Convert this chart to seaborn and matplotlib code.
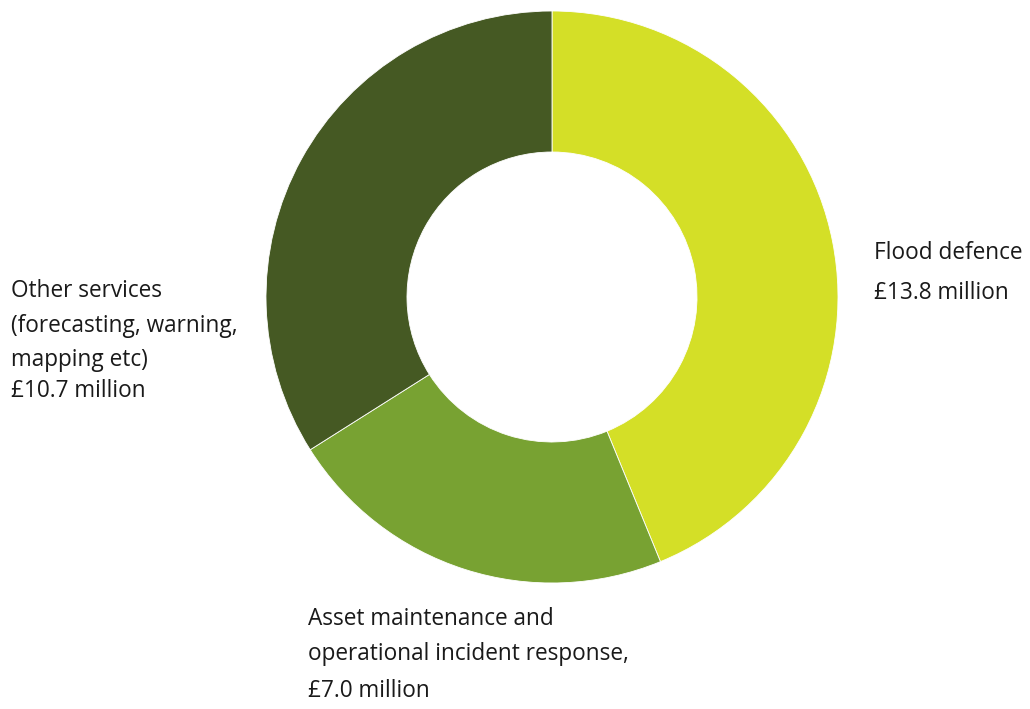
import matplotlib
matplotlib.use("Agg")
import matplotlib.pyplot as plt
import seaborn as sns

# Spending breakdown (£ million)
categories = ["Flood defence",
              "Asset maintenance and operational incident response",
              "Other services (forecasting, warning, mapping etc)"]
values = [13.8, 7.0, 10.7]
colors = ["#D4DF27", "#78A232", "#455923"]

label_lines = [
    ["Flood defence", "£13.8 million"],
    ["Asset maintenance and", "operational incident response,", "£7.0 million"],
    ["Other services", "(forecasting, warning,", "mapping etc)", "£10.7 million"],
]

sns.set_theme(style="white")
plt.rcParams["font.family"] = ["Open Sans", "DejaVu Sans"]

W, H = 1030, 709
fig = plt.figure(figsize=(W / 100, H / 100), dpi=100)
fig.patch.set_facecolor("white")

# Donut centre and outer radius in pixels
cx, cy, r = 552, 297, 286
ax = fig.add_axes([(cx - r) / W, (H - cy - r) / H, 2 * r / W, 2 * r / H])
ax.pie(values, colors=sns.color_palette(colors), startangle=90, counterclock=False,
       radius=1.0, wedgeprops=dict(width=0.493, edgecolor="white", linewidth=0.6))
ax.set_xlim(-1, 1)
ax.set_ylim(-1, 1)
ax.set_aspect("equal")
ax.axis("off")


def put(x, y, s):
    fig.text(x / W, 1 - y / H, s, ha="left", va="top", fontsize=16.3, color="#1a1a1a")


# Label blocks: left edge, top of each line (pixels from top)
put(874, 241, label_lines[0][0])
put(874, 281, label_lines[0][1])

put(308, 607, label_lines[1][0])
put(308, 642, label_lines[1][1])
put(308, 679, label_lines[1][2])

put(11, 279, label_lines[2][0])
put(11, 314, label_lines[2][1])
put(11, 348, label_lines[2][2])
put(11, 379, label_lines[2][3])

fig.savefig("out.png", dpi=100, facecolor="white")
